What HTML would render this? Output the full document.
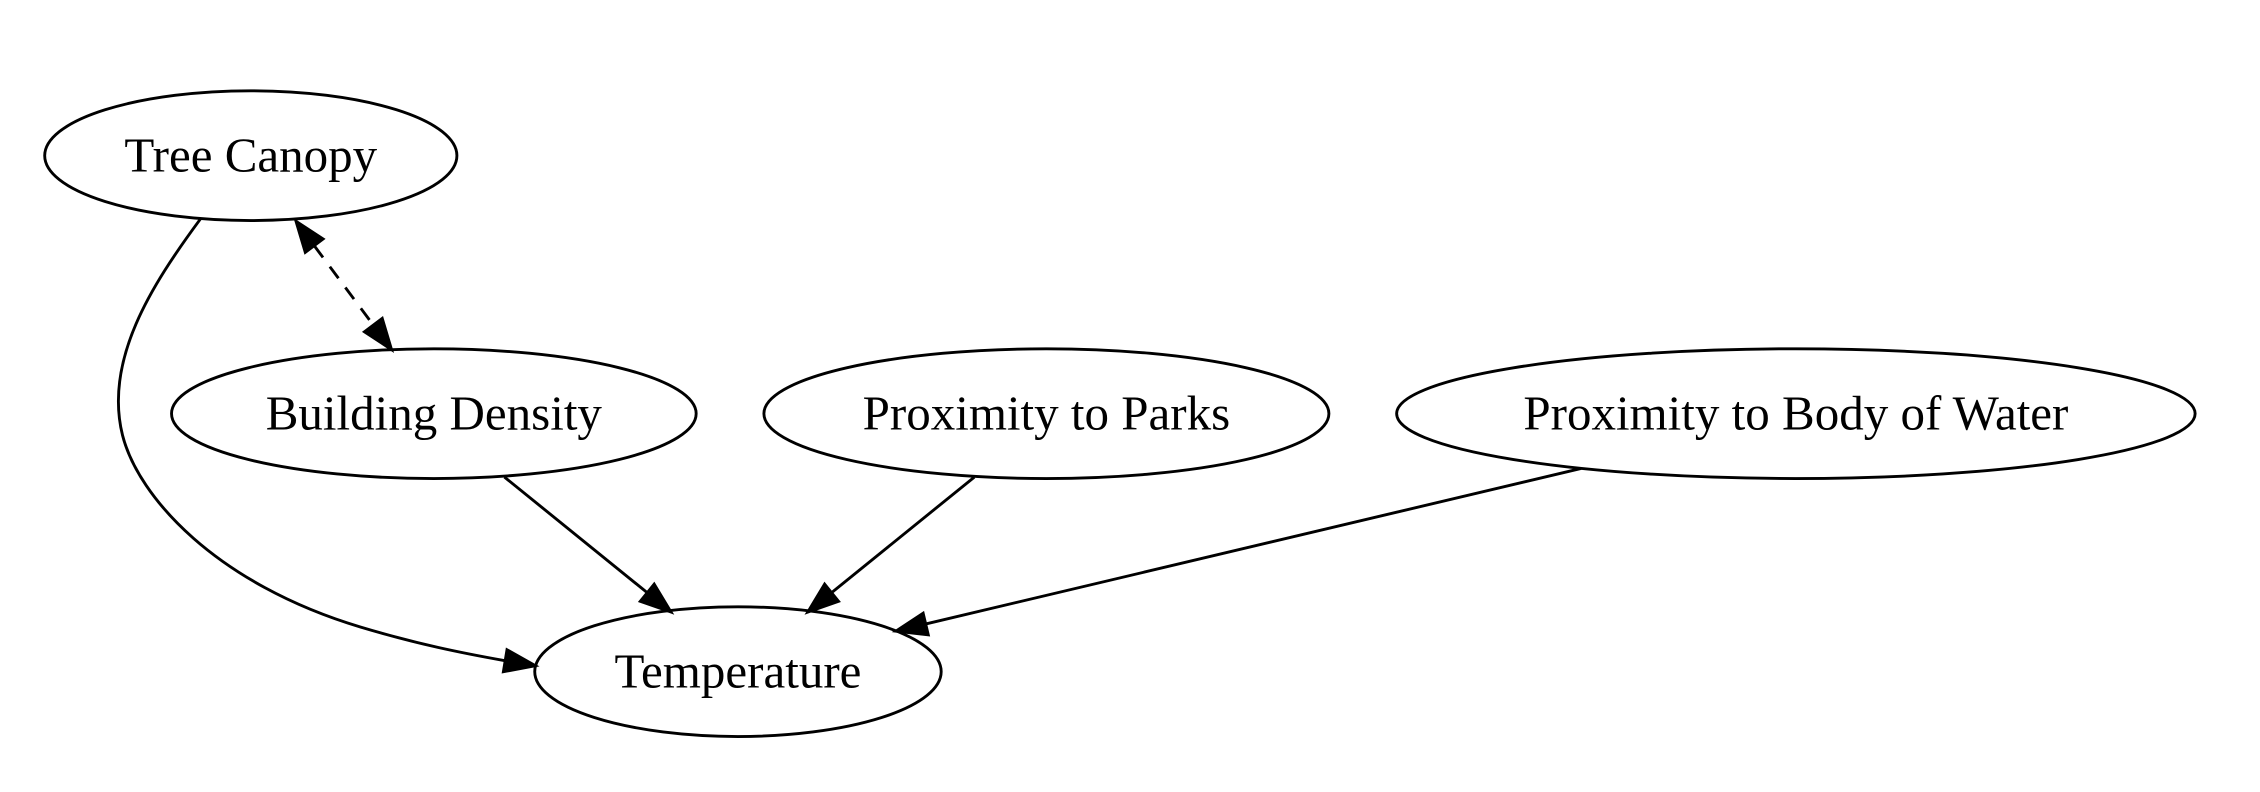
<!DOCTYPE html>
<html><head><meta charset="utf-8"><style>html,body{margin:0;padding:0;background:#fff}svg{display:block}</style></head>
<body>
<svg width="2260" height="792" viewBox="0 0 1568 549.5" xmlns="http://www.w3.org/2000/svg">
<g fill="none" stroke="#000" stroke-width="2">
<ellipse cx="174" cy="108" rx="143" ry="45"/>
<ellipse cx="301" cy="287" rx="182" ry="45"/>
<ellipse cx="726" cy="287" rx="196" ry="45"/>
<ellipse cx="1246" cy="287" rx="277" ry="45"/>
<ellipse cx="512" cy="466" rx="141" ry="45"/>
<path d="M139,152 C105,198 72,250 85,302 C96,345 150,405 250,435 C290,447 320,453 350.3,458.4"/>
<line x1="218.1" y1="170.6" x2="258.9" y2="225.4" stroke-dasharray="10,8"/>
<line x1="350" y1="331" x2="448.9" y2="411.1"/>
<line x1="676" y1="331" x2="577.1" y2="411.1"/>
<line x1="1097" y1="325" x2="642.4" y2="432.9"/>
</g>
<g fill="#000" stroke="#000" stroke-width="1.6">
<polygon points="372,462 349,466.3 351.6,450.5"/>
<polygon points="205,153 211.7,175.4 224.5,165.8"/>
<polygon points="272,243 252.5,230.2 265.3,220.6"/>
<polygon points="466,425 443.9,417.3 453.9,404.9"/>
<polygon points="560,425 572.1,404.9 582.1,417.3"/>
<polygon points="621,438 644.3,440.7 640.6,425.1"/>
</g>
<g font-family="Liberation Serif, serif" font-size="34" text-anchor="middle" fill="#000">
<text x="174" y="119">Tree Canopy</text>
<text x="301" y="298">Building Density</text>
<text x="726" y="298">Proximity to Parks</text>
<text x="1246" y="298">Proximity to Body of Water</text>
<text x="512" y="477">Temperature</text>
</g>
</svg>
</body></html>
